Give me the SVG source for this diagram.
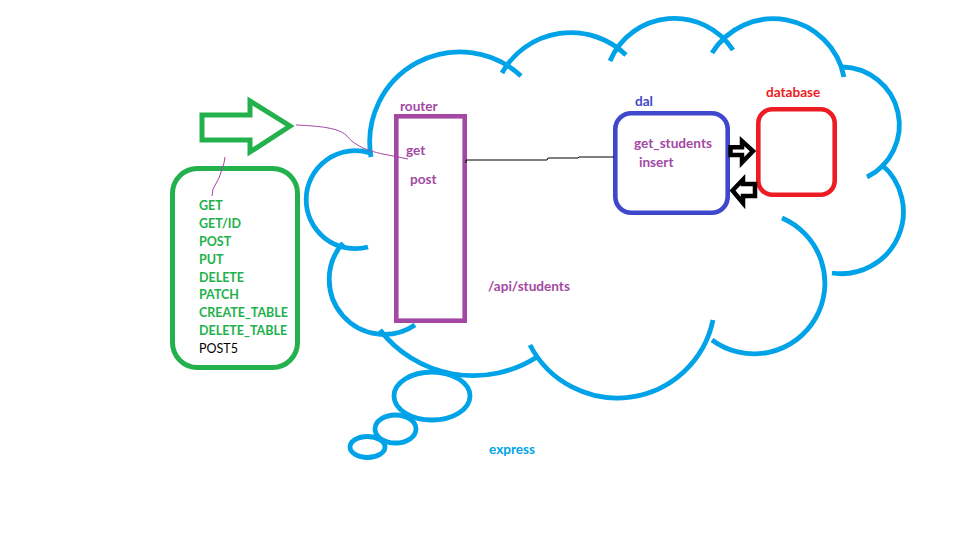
<svg xmlns="http://www.w3.org/2000/svg" width="957" height="545" viewBox="0 0 957 545">
  <style>
    .cloud { fill: none; stroke: #00A2E8; stroke-width: 4.8; stroke-linecap: butt; }
    .lbl { font-family: Lato, "Open Sans", "Liberation Sans", sans-serif; font-size: 12.5px; font-weight: bold; }
    .lc { font-size: 13.6px; }
    .purple { fill: #A349A4; }
    .green { fill: #22B14C; }
    .thin { fill: none; stroke-width: 1; }
    .outline-arrow { fill: none; stroke: #000; stroke-width: 4.5; stroke-linejoin: miter; }
  </style>
  <rect width="957" height="545" fill="#fff"/>

  <!-- express: cloud made of overlapping arcs -->
  <g id="express">
    <path class="cloud" d="M371,157 A90,90 0 0 1 521,76"/>
    <path class="cloud" d="M502,73 A79,79 0 0 1 626,55"/>
    <path class="cloud" d="M610,61 A70,70 0 0 1 733,50"/>
    <path class="cloud" d="M712,53 A72,72 0 0 1 844,77"/>
    <path class="cloud" d="M842,67 A58,58 0 0 1 867,177"/>
    <path class="cloud" d="M881,164 A62,62 0 0 1 832,273"/>
    <path class="cloud" d="M782,218 A70.8,70.8 0 1 1 712,340"/>
    <path class="cloud" d="M713,320 A98,98 0 0 1 530,345"/>
    <path class="cloud" d="M537,357 A118,118 0 0 1 380,330"/>
    <path class="cloud" d="M415,325 A55,55 0 0 1 343,243"/>
    <path class="cloud" d="M368,247 A49,49 0 1 1 370,153"/>
    <ellipse class="cloud" cx="432" cy="396" rx="38" ry="24"/>
    <ellipse class="cloud" cx="395.5" cy="429" rx="20.5" ry="14"/>
    <ellipse class="cloud" cx="367.5" cy="447" rx="17.5" ry="10.5"/>
    <text class="lbl lc" x="489" y="454" fill="#00A2E8">express</text>
    <text class="lbl lc purple" x="488" y="291">/api/students</text>
  </g>

  <!-- request input arrow -->
  <g id="input-arrow">
    <polygon points="202,115 250,115 250,101 290,126 250,152 250,140 202,140" fill="none" stroke="#22B14C" stroke-width="5" stroke-linejoin="miter"/>
  </g>

  <!-- HTTP methods list -->
  <g id="methods">
    <rect x="172.5" y="168.5" width="125" height="199" rx="25" ry="25" fill="none" stroke="#22B14C" stroke-width="5"/>
    <text class="lbl green" x="199" y="210">GET</text>
    <text class="lbl green" x="199" y="228">GET/ID</text>
    <text class="lbl green" x="199" y="245.5">POST</text>
    <text class="lbl green" x="199" y="263.5">PUT</text>
    <text class="lbl green" x="199" y="281.5">DELETE</text>
    <text class="lbl green" x="199" y="299">PATCH</text>
    <text class="lbl green" x="199" y="317">CREATE_TABLE</text>
    <text class="lbl green" x="199" y="334.5">DELETE_TABLE</text>
    <text x="199" y="352.5" font-family="Lato, 'Open Sans', 'Liberation Sans', sans-serif" font-size="12.5" fill="#000">POST5</text>
  </g>

  <!-- router -->
  <g id="router">
    <rect x="396.3" y="116.3" width="68.4" height="204.4" fill="none" stroke="#A349A4" stroke-width="4.6"/>
    <text class="lbl lc purple" x="400" y="111">router</text>
    <text class="lbl lc purple" x="406" y="155">get</text>
    <text class="lbl lc purple" x="410" y="184">post</text>
  </g>

  <!-- dal -->
  <g id="dal">
    <rect x="615.3" y="113.3" width="112.4" height="99.4" rx="16" ry="16" fill="none" stroke="#3F48CC" stroke-width="4.6"/>
    <text class="lbl lc" x="635" y="106" fill="#3F48CC">dal</text>
    <text class="lbl lc purple" x="634" y="147.5">get_students</text>
    <text class="lbl lc purple" x="639" y="166.5">insert</text>
  </g>

  <!-- database -->
  <g id="database">
    <rect x="758.3" y="109.3" width="76.4" height="85.4" rx="14" ry="14" fill="none" stroke="#ED1C24" stroke-width="4.6"/>
    <text class="lbl lc" x="766" y="97" fill="#ED1C24">database</text>
  </g>

  <!-- connectors -->
  <g id="connectors">
    <path class="thin" stroke="#A349A4" d="M296,125 C320,126 338,128 346,135 C354,145 366,151 388,155 L408,159"/>
    <path class="thin" stroke="#A349A4" d="M225,157 L224,163 L219,178 L213,189 L212,196"/>
    <path class="thin" stroke="#000" stroke-width="1.5" d="M466,163 L466,160 L547,160 L548,158 L578,158 L579,157 L614,157"/>
    <polygon class="outline-arrow" points="730.5,147.3 742,147.3 742,141 753,151 742,162.5 742,155 730.5,155"/>
    <polygon class="outline-arrow" points="755,184 743,184 743,179.5 732.5,190.5 743,203 743,196 755,196"/>
  </g>
</svg>
